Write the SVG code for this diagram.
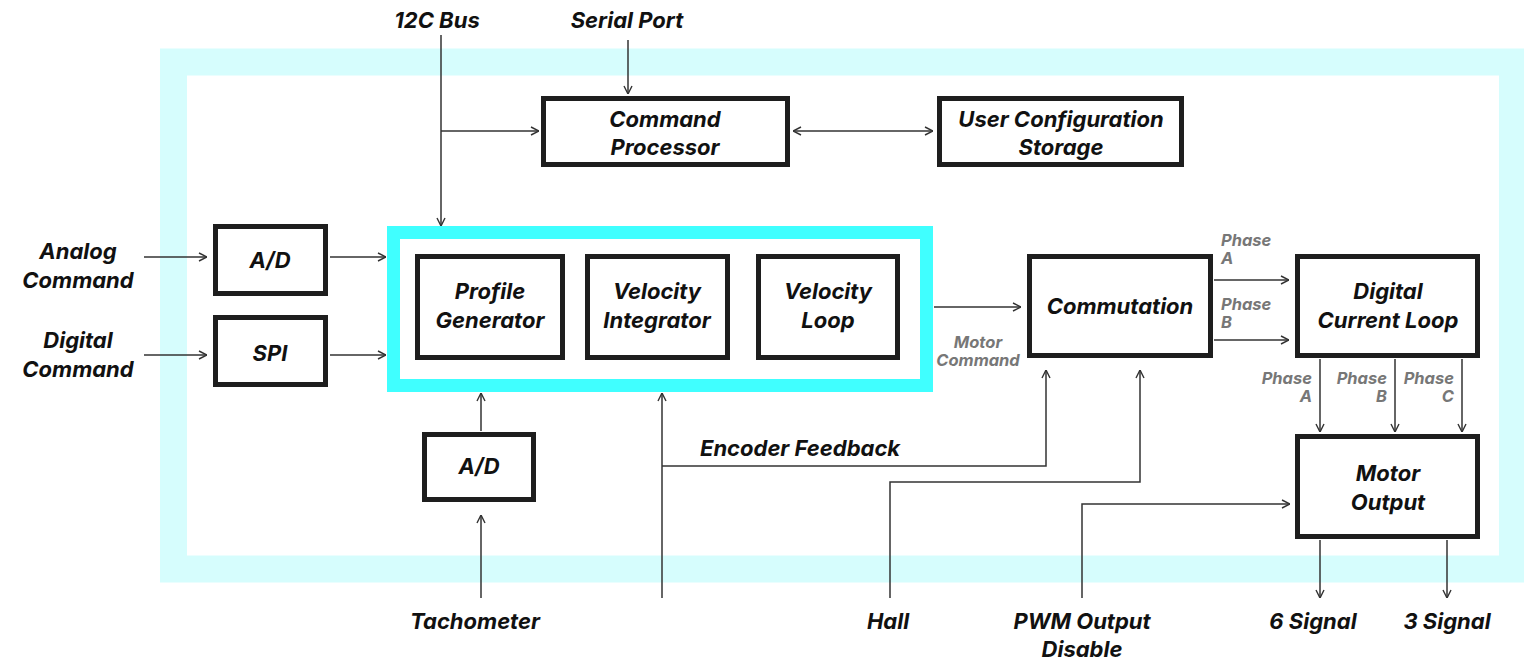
<svg xmlns="http://www.w3.org/2000/svg" width="1524" height="659" viewBox="0 0 1524 659">
<defs>
<marker id="arr" viewBox="0 0 10 10" refX="10" refY="5" markerWidth="10" markerHeight="10" markerUnits="userSpaceOnUse" orient="auto-start-reverse">
<path d="M2,1 L10,5 L2,9" fill="none" stroke="#333" stroke-width="1.4"/>
</marker>
</defs>
<style>
.box{fill:#fff;stroke:#1e1e1e;stroke-width:5}
.t{font-family:Inter,"Liberation Sans",sans-serif;font-weight:700;font-style:italic;font-size:22px;fill:#111;text-anchor:middle}
.g{font-family:Inter,"Liberation Sans",sans-serif;font-weight:700;font-style:italic;font-size:16.5px;fill:#777}
.ln{fill:none;stroke:#333;stroke-width:1.5}
.a{marker-end:url(#arr)}
</style>
<rect x="0" y="0" width="1524" height="659" fill="#fff"/>
<g id="frame">
<rect x="173.5" y="62" width="1339" height="507" fill="none" stroke="#d6fdfd" stroke-width="27"/>
</g>
<g id="core">
<rect x="393.5" y="232.5" width="533" height="153" fill="#fff" stroke="#40ffff" stroke-width="13"/>
</g>
<g id="connectors">
<path class="ln a" d="M441,35 V226"/>
<path class="ln a" d="M441,131 H539"/>
<path class="ln a" d="M628,40 V94"/>
<path class="ln a" d="M862,131 H793"/>
<path class="ln a" d="M862,131 H933"/>
<path class="ln a" d="M144,257 H207"/>
<path class="ln a" d="M144,355 H207"/>
<path class="ln a" d="M330,257 H386"/>
<path class="ln a" d="M330,355 H386"/>
<path class="ln a" d="M934,307 H1021"/>
<path class="ln a" d="M1214,280 H1289"/>
<path class="ln a" d="M1214,340 H1289"/>
<path class="ln a" d="M1320,359 V432"/>
<path class="ln a" d="M1395,359 V432"/>
<path class="ln a" d="M1462,359 V432"/>
<path class="ln a" d="M1320,540 V598"/>
<path class="ln a" d="M1447,540 V598"/>
<path class="ln a" d="M481,431 V393"/>
<path class="ln a" d="M481,598 V515"/>
<path class="ln a" d="M662,598 V393"/>
<path class="ln a" d="M662,466 H1046 V370"/>
<path class="ln a" d="M890,598 V482 H1140 V370"/>
<path class="ln a" d="M1082,598 V504 H1290"/>
</g>
<g id="cmdproc"><rect class="box" x="543.5" y="98.5" width="244" height="66"/><text class="t" x="665" y="127">Command</text><text class="t" x="665" y="155">Processor</text></g>
<g id="ucs"><rect class="box" x="939.5" y="98.5" width="242" height="66"/><text class="t" x="1061" y="127">User Configuration</text><text class="t" x="1061" y="155">Storage</text></g>
<g id="ad1"><rect class="box" x="215.5" y="226.5" width="110" height="67"/><text class="t" x="270" y="268">A/D</text></g>
<g id="spi"><rect class="box" x="215.5" y="317.5" width="110" height="67"/><text class="t" x="270" y="361">SPI</text></g>
<g id="profile"><rect class="box" x="417.5" y="256.5" width="145" height="101"/><text class="t" x="490" y="299">Profile</text><text class="t" x="490" y="328">Generator</text></g>
<g id="velint"><rect class="box" x="587.5" y="256.5" width="140" height="101"/><text class="t" x="657" y="299">Velocity</text><text class="t" x="657" y="328">Integrator</text></g>
<g id="velloop"><rect class="box" x="758.5" y="256.5" width="139" height="101"/><text class="t" x="828" y="299">Velocity</text><text class="t" x="828" y="328">Loop</text></g>
<g id="commutation"><rect class="box" x="1029.5" y="256.5" width="181" height="99"/><text class="t" x="1120" y="314">Commutation</text></g>
<g id="dcl"><rect class="box" x="1297.5" y="256.5" width="180" height="99"/><text class="t" x="1388" y="299">Digital</text><text class="t" x="1388" y="328">Current Loop</text></g>
<g id="motorout"><rect class="box" x="1297.5" y="436.5" width="180" height="100"/><text class="t" x="1388" y="481">Motor</text><text class="t" x="1388" y="510">Output</text></g>
<g id="ad2"><rect class="box" x="424.5" y="434.5" width="109" height="65"/><text class="t" x="479" y="474">A/D</text></g>
<g id="labels">
<text class="t" x="437" y="28">12C Bus</text>
<text class="t" x="627" y="28">Serial Port</text>
<text class="t" x="78" y="259">Analog</text>
<text class="t" x="78" y="288">Command</text>
<text class="t" x="78" y="348">Digital</text>
<text class="t" x="78" y="377">Command</text>
<text class="t" x="475" y="629">Tachometer</text>
<text class="t" x="888" y="629">Hall</text>
<text class="t" x="1082" y="629">PWM Output</text>
<text class="t" x="1082" y="657">Disable</text>
<text class="t" x="1313" y="629">6 Signal</text>
<text class="t" x="1447" y="629">3 Signal</text>
<text class="t" x="800" y="456">Encoder Feedback</text>
<text class="g" x="978" y="348" text-anchor="middle">Motor</text>
<text class="g" x="978" y="366" text-anchor="middle">Command</text>
<text class="g" x="1221" y="246">Phase</text>
<text class="g" x="1221" y="264">A</text>
<text class="g" x="1221" y="310">Phase</text>
<text class="g" x="1221" y="328">B</text>
<text class="g" x="1312" y="384" text-anchor="end">Phase</text>
<text class="g" x="1312" y="402" text-anchor="end">A</text>
<text class="g" x="1387" y="384" text-anchor="end">Phase</text>
<text class="g" x="1387" y="402" text-anchor="end">B</text>
<text class="g" x="1454" y="384" text-anchor="end">Phase</text>
<text class="g" x="1454" y="402" text-anchor="end">C</text>
</g>
</svg>
